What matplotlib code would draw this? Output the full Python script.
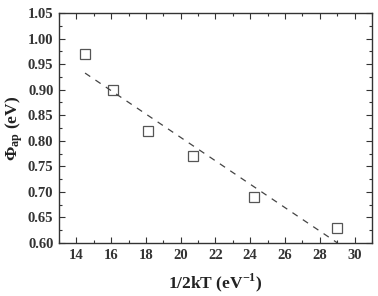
import numpy as np
import matplotlib
matplotlib.use('Agg')
import matplotlib.pyplot as plt
from matplotlib.ticker import MultipleLocator

# data
inv_2kT = [14.5, 16.1, 18.1, 20.7, 24.2, 29.0]
phi_ap = [0.97, 0.90, 0.82, 0.77, 0.69, 0.63]

plt.rcParams['font.family'] = ['Liberation Serif', 'DejaVu Serif']
plt.rcParams['mathtext.fontset'] = 'custom'
plt.rcParams['mathtext.rm'] = 'Liberation Serif'
plt.rcParams['mathtext.bf'] = 'Liberation Serif:bold'

fig = plt.figure(figsize=(3.78, 2.96), dpi=100)
ax = fig.add_axes([0.156, 0.179, 0.828, 0.777])

ax.plot(inv_2kT, phi_ap, linestyle='none', marker='s', markersize=6.5,
        markerfacecolor='white', markeredgecolor='#555555', markeredgewidth=0.9)

# linear fit, dashed
k, b = np.polyfit(inv_2kT, phi_ap, 1)
xf = np.array([inv_2kT[0], inv_2kT[-1]])
ax.plot(xf, k * xf + b, linestyle=(0, (5, 5)), color='#444444', linewidth=0.9)

ax.set_xlim(13, 31)
ax.set_ylim(0.60, 1.05)
ax.xaxis.set_major_locator(MultipleLocator(2))
ax.xaxis.set_minor_locator(MultipleLocator(1))
ax.yaxis.set_major_locator(MultipleLocator(0.05))
ax.yaxis.set_minor_locator(MultipleLocator(0.025))
ax.tick_params(which='both', direction='in', top=True, right=True,
               labelsize=10.5, color='#333333', width=0.8)
ax.tick_params(which='major', length=4, pad=4)
ax.tick_params(which='minor', length=2)
for lab in ax.get_xticklabels() + ax.get_yticklabels():
    lab.set_fontweight('bold')
    lab.set_color('#333333')
for s in ax.spines.values():
    s.set_linewidth(1.0)
    s.set_color('#333333')

ax.set_xlabel(r'1/2kT (eV$^{\mathbf{-1}}$)', fontsize=12.5, fontweight='bold',
              color='#222222', labelpad=7)
ax.set_ylabel(r'$\mathbf{\Phi_{ap}}$ (eV)', fontsize=12.5, fontweight='bold',
              color='#222222', labelpad=2)

fig.savefig('out.png', dpi=100)
